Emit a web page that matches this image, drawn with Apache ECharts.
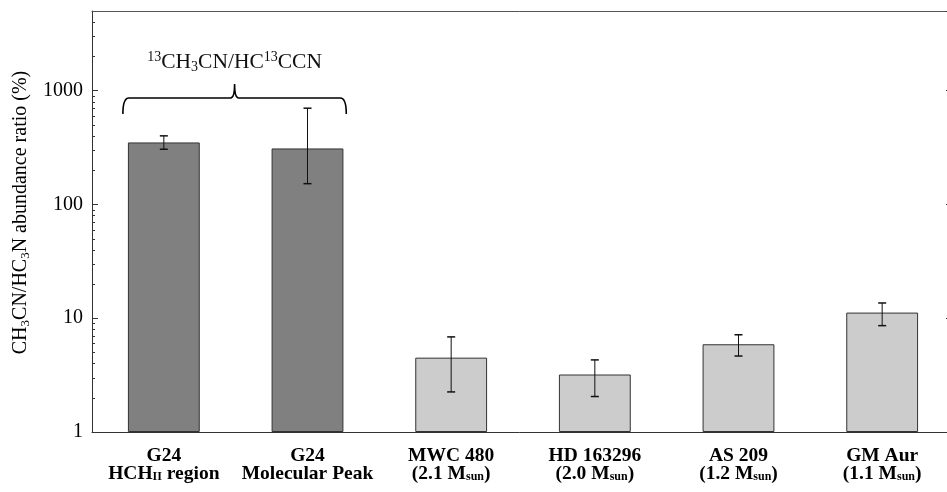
<!DOCTYPE html>
<html>
<head>
<meta charset="utf-8">
<script src="https://cdn.jsdelivr.net/npm/echarts@6/dist/echarts.min.js"></script>
<style>html,body{margin:0;padding:0;background:#fff;overflow:hidden;}#chart{width:947px;height:492px;}</style>
</head>
<body>
<div id="chart"></div>
<script>
// ---- data ----
const categories = ['G24\nHCH_{II} region', 'G24\nMolecular Peak', 'MWC 480\n(2.1 M_{sun})', 'HD 163296\n(2.0 M_{sun})', 'AS 209\n(1.2 M_{sun})', 'GM Aur\n(1.1 M_{sun})'];
const groups = ['G24', 'G24', 'disk', 'disk', 'disk', 'disk'];
const values = [350, 310, 4.5, 3.2, 5.9, 11.2];
const errLow = [305, 152, 2.25, 2.05, 4.65, 8.6];
const errHigh = [400, 700, 6.85, 4.3, 7.15, 13.6];
const yMin = 1, yMax = 5000;
const minorTickValues = [2,3,4,5,6,7,8,9,20,30,40,50,60,70,80,90,200,300,400,500,600,700,800,900,2000,3000,4000];
const braceGroup = [0, 1];
const braceLabel = '{p|13}CH{b|3}CN/HC{p|13}CCN';
const yAxisTitle = 'CH{s|3}CN/HC{s|3}N abundance ratio (%)';

const FONT = 'Liberation Serif';
const groupColor = { G24: '#808080', disk: '#cccccc' };

function fmtCat(v) {
  return v.split('\n').map(line => {
    let out = '';
    const re = /_\{([^}]*)\}/g;
    let last = 0, m;
    while ((m = re.exec(line)) !== null) {
      if (m.index > last) out += '{b|' + line.slice(last, m.index) + '}';
      out += '{s|' + m[1] + '}';
      last = re.lastIndex;
    }
    if (last < line.length) out += '{b|' + line.slice(last) + '}';
    return out;
  }).join('\n');
}

const chart = echarts.init(document.getElementById('chart'), null, { renderer: 'canvas' });

const logAxisCommon = {
  type: 'log', logBase: 10, min: yMin, max: yMax,
  splitLine: { show: false },
  axisLine: { show: true, lineStyle: { color: '#333', width: 1 } },
  axisTick: { show: true, inside: true, length: 6, lineStyle: { color: '#333', width: 1 } }
};

const option = {
  animation: false,
  backgroundColor: '#fff',
  grid: { left: 92, width: 862, top: 11, bottom: 60, containLabel: false, outerBoundsMode: 'none' },
  xAxis: [
    {
      type: 'category', data: categories, position: 'bottom',
      axisLine: { lineStyle: { color: '#333', width: 1 } },
      axisTick: { show: false },
      axisLabel: {
        interval: 0, margin: 15, color: '#000',
        formatter: fmtCat,
        rich: {
          b: { fontFamily: FONT, fontWeight: 'bold', fontSize: 19.5, lineHeight: 18, color: '#000' },
          s: { fontFamily: FONT, fontWeight: 'bold', fontSize: 12, lineHeight: 8, verticalAlign: 'bottom', color: '#000' }
        }
      }
    },
    {
      type: 'category', data: categories, position: 'top',
      axisLine: { show: true, lineStyle: { color: '#555', width: 1 } },
      axisTick: { show: false }, axisLabel: { show: false }
    }
  ],
  yAxis: [
    Object.assign({}, logAxisCommon, {
      position: 'left',
      axisLabel: {
        show: true, margin: 9, color: '#000', fontFamily: FONT, fontSize: 20,
        showMaxLabel: false,
        formatter: v => String(Math.round(v))
      },
      name: yAxisTitle,
      nameLocation: 'middle', nameGap: 56,
      nameTextStyle: {
        fontFamily: FONT, fontSize: 20, color: '#000', lineHeight: 22,
        padding: [0, 0, 0, 18],
        rich: {
          s: { fontFamily: FONT, fontSize: 13, lineHeight: 13, verticalAlign: 'bottom', color: '#000' }
        }
      }
    }),
    Object.assign({}, logAxisCommon, {
      position: 'right',
      axisTick: { show: true, inside: true, length: 8, lineStyle: { color: '#333', width: 1 } },
      axisLabel: { show: false }
    })
  ],
  series: [
    {
      type: 'bar', xAxisIndex: 0, yAxisIndex: 0,
      data: values,
      barWidth: '50%',
      itemStyle: {
        color: p => groupColor[groups[p.dataIndex]],
        borderColor: '#333', borderWidth: 1
      },
      silent: true
    },
    {
      type: 'custom', xAxisIndex: 0, yAxisIndex: 0,
      data: values.map((v, i) => [i, errLow[i], errHigh[i]]),
      encode: { x: 0, y: [1, 2] },
      z: 5, silent: true,
      renderItem: function (params, api) {
        const lo = api.coord([api.value(0), api.value(1)]);
        const hi = api.coord([api.value(0), api.value(2)]);
        const cw = 4;
        const st = { stroke: '#111', lineWidth: 1 };
        return {
          type: 'group', children: [
            { type: 'line', shape: { x1: lo[0], y1: lo[1], x2: hi[0], y2: hi[1] }, style: st },
            { type: 'line', shape: { x1: lo[0] - cw, y1: lo[1], x2: lo[0] + cw, y2: lo[1] }, style: { stroke: '#111', lineWidth: 1.5 } },
            { type: 'line', shape: { x1: hi[0] - cw, y1: hi[1], x2: hi[0] + cw, y2: hi[1] }, style: { stroke: '#111', lineWidth: 1.5 } }
          ]
        };
      }
    },
    {
      type: 'custom', xAxisIndex: 0, yAxisIndex: 0,
      data: minorTickValues.map(v => [0, v]),
      encode: { x: 0, y: 1 },
      z: 6, silent: true,
      renderItem: function (params, api) {
        const cs = params.coordSys;
        const p = api.coord([0, api.value(1)]);
        const y = Math.round(p[1]) + 0.5;
        return {
          type: 'group', children: [
            { type: 'line', shape: { x1: cs.x, y1: y, x2: cs.x + 3, y2: y }, style: { stroke: '#333', lineWidth: 1 } },
            { type: 'line', shape: { x1: cs.x + cs.width, y1: y, x2: cs.x + cs.width - 3, y2: y }, style: { stroke: '#333', lineWidth: 1 } }
          ]
        };
      }
    },
    {
      type: 'custom', xAxisIndex: 0, yAxisIndex: 0,
      data: [[braceGroup[0], braceGroup[1]]],
      encode: { x: [0, 1] },
      z: 7, silent: true,
      renderItem: function (params, api) {
        const band = api.size([1, 0])[0];
        const a = api.coord([api.value(0), yMin]);
        const b = api.coord([api.value(1), yMin]);
        const cs = params.coordSys;
        const L = a[0] - 0.285 * band;
        const R = b[0] + 0.27 * band;
        const M = (L + R) / 2;
        const y0 = cs.y + 87;
        const yb = y0 + 16;
        const yp = y0 - 14;
        const path = 'M' + L + ' ' + yb + ' Q' + L + ' ' + y0 + ' ' + (L + 6) + ' ' + y0 +
          ' L' + (M - 4) + ' ' + y0 + ' Q' + M + ' ' + y0 + ' ' + M + ' ' + yp +
          ' Q' + M + ' ' + y0 + ' ' + (M + 4) + ' ' + y0 +
          ' L' + (R - 6) + ' ' + y0 + ' Q' + R + ' ' + y0 + ' ' + R + ' ' + yb;
        return {
          type: 'group', children: [
            { type: 'path', shape: { pathData: path }, style: { stroke: '#000', fill: null, lineWidth: 1.6 } },
            {
              type: 'text', x: M, y: y0 - 36,
              style: {
                text: braceLabel, fontFamily: FONT, fontSize: 21.5, fill: '#111',
                align: 'center', verticalAlign: 'middle', lineHeight: 24,
                rich: {
                  p: { fontFamily: FONT, fontSize: 14, lineHeight: 24, verticalAlign: 'top', fill: '#111' },
                  b: { fontFamily: FONT, fontSize: 14, lineHeight: 14, verticalAlign: 'bottom', fill: '#111' }
                }
              }
            }
          ]
        };
      }
    }
  ]
};
chart.setOption(option);
</script>
</body>
</html>
